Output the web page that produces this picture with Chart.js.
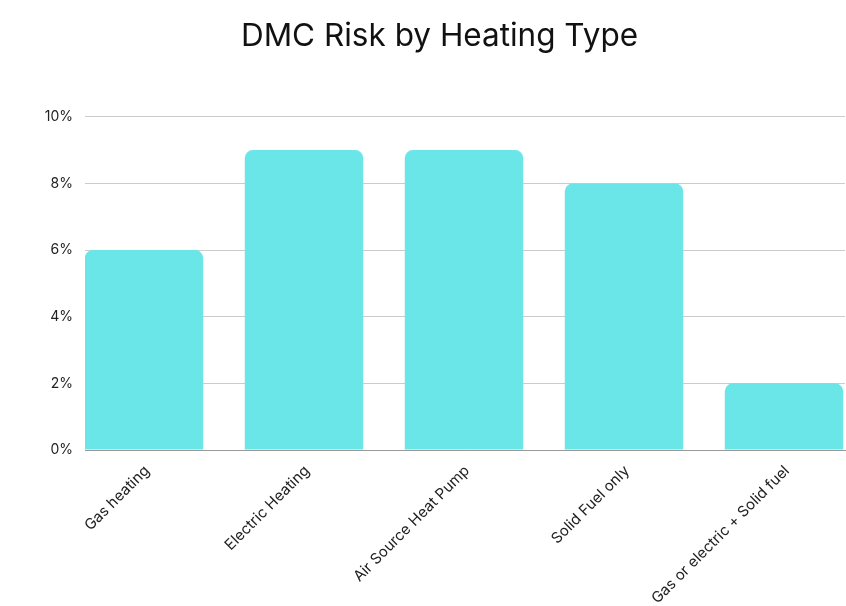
<!DOCTYPE html>
<html>
<head>
<meta charset="utf-8">
<script src="https://cdn.jsdelivr.net/npm/chart.js@4/dist/chart.umd.min.js"></script>
<style>
  html,body{margin:0;padding:0;background:#fff;}
  #wrap{width:846px;height:606px;position:relative;}
</style>
</head>
<body>
<div id="wrap"><canvas id="riskChart"></canvas></div>
<script>
const categories=['Gas heating','Electric Heating','Air Source Heat Pump','Solid Fuel only','Gas or electric + Solid fuel'];
const riskValues=[0.06,0.09,0.09,0.08,0.02];
const yTicks=[0,0.02,0.04,0.06,0.08,0.10];

const fontFam="Inter, 'Noto Sans', sans-serif";
Chart.defaults.font.family=fontFam;
Chart.defaults.color='#222';

// bars sit flush with the left edge of the plot, so use a numeric x axis on the category index
const points=riskValues.map((v,i)=>({x:i,y:v}));

new Chart(document.getElementById('riskChart'),{
  type:'bar',
  data:{datasets:[{label:'DMC Risk',data:points,backgroundColor:'#6ae5e8',borderRadius:8,barPercentage:0.74,categoryPercentage:1}]},
  options:{
    responsive:true,maintainAspectRatio:false,animation:false,
    layout:{padding:{left:34,right:1,top:0,bottom:0}},
    plugins:{
      legend:{display:false},
      tooltip:{enabled:false},
      title:{display:true,text:'DMC Risk by Heating Type',font:{size:31.5,weight:'normal',family:fontFam},color:'#111',padding:{top:18,bottom:61}}
    },
    scales:{
      x:{
        type:'linear',offset:false,
        min:-0.36875,max:4.38125,
        afterBuildTicks(s){s.ticks=categories.map((c,i)=>({value:i}));},
        grid:{display:false},
        border:{display:true,color:'#999',width:1},
        ticks:{font:{size:15},color:'#222',maxRotation:45,minRotation:45,padding:4,labelOffset:3,callback:v=>categories[v]},
        afterFit(s){s.height=156;}
      },
      y:{
        min:0,max:0.1,
        afterBuildTicks(s){s.ticks=yTicks.map(v=>({value:v}));},
        grid:{color:'#cccccc',drawTicks:false},
        border:{display:false},
        ticks:{font:{size:14},color:'#222',padding:12,callback:v=>Math.round(v*100)+'%'},
        afterFit(s){s.width=51;}
      }
    }
  }
});
</script>
</body>
</html>
